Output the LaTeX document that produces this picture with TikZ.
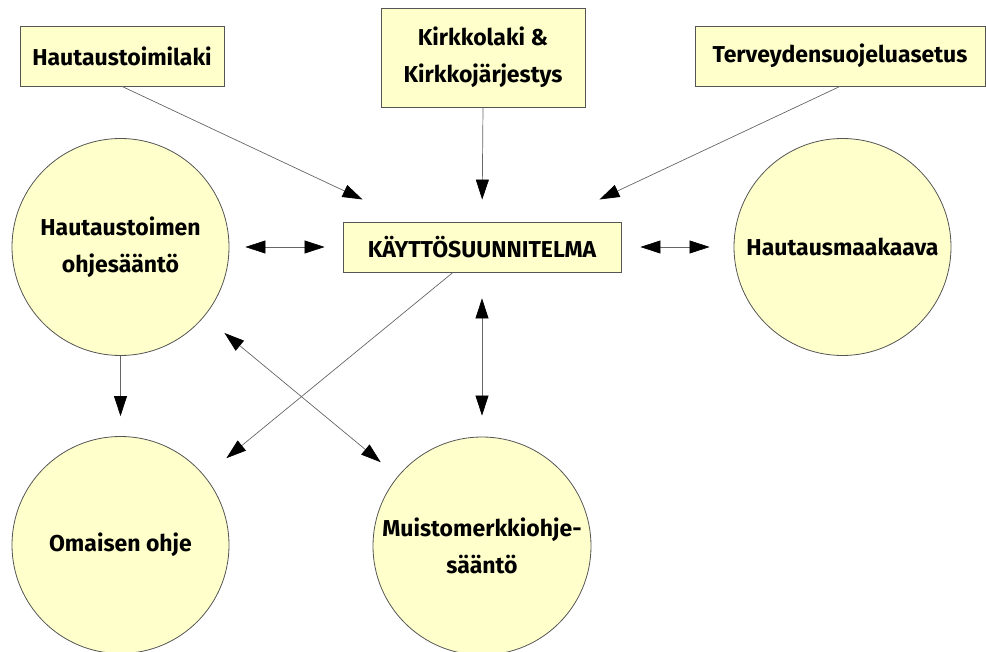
\documentclass[tikz,border=0pt]{standalone}
\usepackage{fontspec}
\setmainfont{Fira Sans}
\usetikzlibrary{arrows.meta,calc}
\definecolor{pale}{HTML}{FFFFCC}
\definecolor{edge}{HTML}{555555}
\definecolor{wire}{HTML}{666666}
\tikzset{
  bigtip/.tip={Triangle[length=20pt,width=13pt,fill=black,color=black]},
  lbl/.style={font=\fontsize{23}{37}\selectfont\bfseries, text=black, align=center},
  rbox/.style={lbl, rectangle, draw=edge, line width=0.8pt, fill=pale, inner sep=0pt},
  cnode/.style={lbl, circle, draw=edge, line width=0.8pt, fill=pale, inner sep=0pt, minimum size=217pt},
  conn/.style={draw=wire, line width=0.7pt, -{bigtip}},
  conn2/.style={draw=wire, line width=0.7pt, {bigtip}-{bigtip}}
}
\begin{document}
\begin{tikzpicture}[x=1pt,y=-1pt]
\useasboundingbox (0,0) rectangle (986,652);
\node[rbox, minimum width=204pt, minimum height=60pt] (lak) at (122,56) {Hautaustoimilaki};
\node[rbox, minimum width=204pt, minimum height=99pt] (kirk) at (483,57.5) {Kirkkolaki \&\\Kirkkojärjestys};
\node[rbox, minimum width=290pt, minimum height=60pt] (terv) at (840,56) {Terveydensuojeluasetus};
\node[rbox, minimum width=278pt, minimum height=50pt] (kay) at (482,247) {KÄYTTÖSUUNNITELMA};
\node[cnode] (c1) at (120.5,247) {Hautaustoimen\\ohjesääntö};
\node[cnode] (c2) at (842.5,247) {Hautausmaakaava};
\node[cnode] (c3) at (120.5,545) {Omaisen ohje};
\node[cnode, minimum size=218pt] (c4) at (482,546) {Muistomerkkiohje-\\sääntö};

\draw[conn, shorten >=52pt] (lak.south) -- ([xshift=67pt]kay.north west);
\draw[conn, shorten >=22pt] (kirk.south) -- (kay.north);
\draw[conn, shorten >=52pt] (terv.south) -- ([xshift=-69pt]kay.north east);
\draw[conn2, shorten <=16pt, shorten >=18pt] (c1.east) -- (kay.west);
\draw[conn2, shorten <=19pt, shorten >=24pt] (kay.east) -- (c2.west);
\draw[conn, shorten >=20pt] (c1.south) -- (c3.north);
\draw[conn, shorten >=28pt] ([xshift=-29pt]kay.south) -- (c3);
\draw[conn2, shorten <=26pt, shorten >=22pt] (c1) -- (c4);
\draw[conn2, shorten <=26pt, shorten >=21pt] (kay.south) -- (c4.north);
\end{tikzpicture}
\end{document}
